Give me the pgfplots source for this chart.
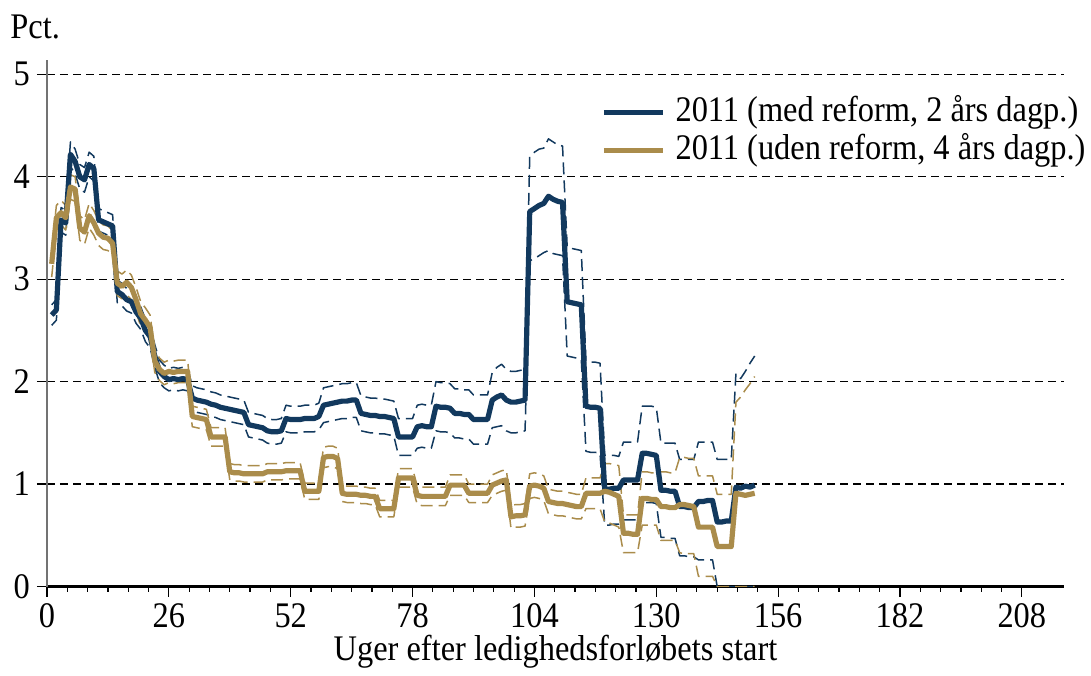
\documentclass[border=0pt]{standalone}
\usepackage{fontspec}
\setmainfont{Liberation Serif}[FakeStretch=0.9]
\usepackage{pgfplots}
\usepackage{pgfplotstable}
\pgfplotsset{compat=1.18}

\definecolor{reformblue}{HTML}{12395E}
\definecolor{nogold}{HTML}{AA8C4B}

% Weekly hazard rates (pct.) with confidence bands
% w = week, b = with reform, g = without reform, l/h = lower/upper band
\pgfplotstableread{
w b bl bh g gl gh
1 2.65 2.55 2.75 3.15 3.02 3.28
2 2.70 2.60 2.80 3.60 3.48 3.72
3 3.58 3.46 3.70 3.65 3.53 3.77
4 3.55 3.43 3.67 3.60 3.48 3.72
5 4.22 4.10 4.34 3.90 3.78 4.02
6 4.15 4.03 4.27 3.88 3.76 4.00
7 4.00 3.88 4.12 3.50 3.38 3.62
8 3.97 3.85 4.09 3.46 3.34 3.58
9 4.12 4.00 4.24 3.62 3.50 3.74
10 4.08 3.96 4.20 3.55 3.43 3.67
11 3.58 3.47 3.69 3.45 3.33 3.57
12 3.56 3.45 3.67 3.41 3.29 3.53
13 3.54 3.43 3.65 3.40 3.28 3.52
14 3.52 3.41 3.63 3.35 3.23 3.47
15 2.88 2.77 2.99 2.96 2.84 3.08
16 2.85 2.74 2.96 2.93 2.81 3.05
17 2.80 2.69 2.91 2.97 2.85 3.09
18 2.78 2.67 2.89 2.92 2.80 3.04
19 2.68 2.57 2.79 2.80 2.68 2.92
20 2.62 2.51 2.73 2.66 2.54 2.78
21 2.50 2.39 2.61 2.60 2.48 2.72
22 2.44 2.33 2.55 2.53 2.41 2.65
23 2.25 2.14 2.36 2.20 2.09 2.31
24 2.10 1.99 2.21 2.12 2.01 2.23
25 2.05 1.94 2.16 2.08 1.97 2.19
26 2.02 1.91 2.13 2.10 1.99 2.21
27 2.03 1.92 2.14 2.09 1.98 2.20
28 2.02 1.91 2.13 2.10 1.99 2.21
29 2.03 1.92 2.14 2.10 1.99 2.21
30 2.02 1.91 2.13 2.10 1.99 2.21
31 1.84 1.72 1.96 1.66 1.56 1.76
32 1.82 1.70 1.94 1.65 1.55 1.75
33 1.81 1.69 1.93 1.64 1.54 1.74
34 1.80 1.68 1.92 1.63 1.53 1.73
35 1.78 1.66 1.90 1.46 1.37 1.55
36 1.77 1.65 1.89 1.46 1.37 1.55
37 1.75 1.63 1.87 1.46 1.37 1.55
38 1.74 1.62 1.86 1.46 1.37 1.55
39 1.73 1.61 1.85 1.12 1.04 1.20
40 1.72 1.60 1.84 1.11 1.03 1.19
41 1.71 1.59 1.83 1.11 1.03 1.19
42 1.70 1.58 1.82 1.10 1.02 1.18
43 1.58 1.46 1.70 1.10 1.02 1.18
44 1.57 1.45 1.69 1.10 1.02 1.18
45 1.56 1.44 1.68 1.10 1.02 1.18
46 1.55 1.43 1.67 1.10 1.02 1.18
47 1.52 1.40 1.64 1.12 1.04 1.20
48 1.51 1.39 1.63 1.12 1.04 1.20
49 1.51 1.39 1.63 1.12 1.04 1.20
50 1.52 1.40 1.64 1.12 1.04 1.20
51 1.64 1.51 1.77 1.13 1.05 1.21
52 1.63 1.50 1.76 1.13 1.05 1.21
53 1.63 1.50 1.76 1.13 1.05 1.21
54 1.63 1.50 1.76 1.13 1.05 1.21
55 1.64 1.51 1.77 0.93 0.85 1.01
56 1.64 1.51 1.77 0.93 0.85 1.01
57 1.64 1.51 1.77 0.93 0.85 1.01
58 1.66 1.53 1.79 0.93 0.85 1.01
59 1.77 1.60 1.94 1.26 1.16 1.36
60 1.78 1.61 1.95 1.27 1.17 1.37
61 1.79 1.62 1.96 1.27 1.17 1.37
62 1.80 1.63 1.97 1.25 1.15 1.35
63 1.81 1.64 1.98 0.91 0.83 0.99
64 1.81 1.64 1.98 0.90 0.82 0.98
65 1.82 1.65 1.99 0.90 0.82 0.98
66 1.82 1.65 1.99 0.90 0.82 0.98
67 1.69 1.52 1.86 0.89 0.81 0.97
68 1.68 1.51 1.85 0.89 0.81 0.97
69 1.67 1.50 1.84 0.88 0.80 0.96
70 1.67 1.50 1.84 0.88 0.80 0.96
71 1.66 1.49 1.83 0.76 0.68 0.84
72 1.66 1.49 1.83 0.76 0.68 0.84
73 1.65 1.48 1.82 0.76 0.68 0.84
74 1.64 1.47 1.81 0.76 0.68 0.84
75 1.46 1.28 1.64 1.06 0.97 1.15
76 1.46 1.28 1.64 1.06 0.97 1.15
77 1.46 1.28 1.64 1.06 0.97 1.15
78 1.46 1.28 1.64 1.06 0.97 1.15
79 1.56 1.35 1.77 0.89 0.80 0.98
80 1.57 1.36 1.78 0.88 0.79 0.97
81 1.56 1.35 1.77 0.88 0.79 0.97
82 1.56 1.35 1.77 0.88 0.79 0.97
83 1.76 1.52 2.00 0.88 0.79 0.97
84 1.75 1.51 1.99 0.88 0.79 0.97
85 1.75 1.51 1.99 0.88 0.79 0.97
86 1.74 1.50 1.98 0.99 0.89 1.09
87 1.69 1.45 1.93 0.99 0.89 1.09
88 1.69 1.45 1.93 0.99 0.89 1.09
89 1.68 1.44 1.92 0.99 0.89 1.09
90 1.68 1.44 1.92 0.91 0.82 1.00
91 1.63 1.39 1.87 0.91 0.82 1.00
92 1.63 1.39 1.87 0.91 0.82 1.00
93 1.63 1.39 1.87 0.91 0.82 1.00
94 1.63 1.39 1.87 0.91 0.82 1.00
95 1.82 1.55 2.09 0.99 0.89 1.09
96 1.85 1.56 2.14 1.01 0.91 1.11
97 1.87 1.57 2.17 1.03 0.93 1.13
98 1.82 1.52 2.12 1.04 0.94 1.14
99 1.80 1.50 2.10 0.68 0.57 0.79
100 1.80 1.50 2.10 0.69 0.58 0.80
101 1.81 1.51 2.11 0.69 0.58 0.80
102 1.82 1.52 2.12 0.70 0.59 0.81
103 3.66 3.18 4.20 0.98 0.86 1.10
104 3.69 3.20 4.24 0.99 0.87 1.11
105 3.72 3.23 4.27 0.98 0.86 1.10
106 3.74 3.26 4.28 0.96 0.84 1.08
107 3.81 3.28 4.37 0.83 0.71 0.95
108 3.78 3.25 4.34 0.82 0.70 0.94
109 3.76 3.24 4.31 0.81 0.69 0.93
110 3.75 3.23 4.30 0.81 0.69 0.93
111 2.78 2.25 3.31 0.80 0.68 0.92
112 2.77 2.24 3.30 0.79 0.67 0.91
113 2.76 2.23 3.29 0.78 0.66 0.90
114 2.75 2.22 3.28 0.78 0.66 0.90
115 1.76 1.32 2.20 0.91 0.76 1.06
116 1.75 1.31 2.19 0.91 0.76 1.06
117 1.75 1.31 2.19 0.91 0.76 1.06
118 1.74 1.30 2.18 0.91 0.76 1.06
119 0.95 0.60 1.28 0.93 0.63 1.20
120 0.95 0.60 1.28 0.92 0.62 1.20
121 0.96 0.61 1.28 0.90 0.60 1.19
122 0.96 0.61 1.27 0.88 0.58 1.18
123 1.04 0.65 1.41 0.52 0.33 0.70
124 1.04 0.65 1.41 0.52 0.33 0.70
125 1.04 0.65 1.41 0.51 0.33 0.70
126 1.04 0.65 1.41 0.51 0.33 0.70
127 1.30 0.82 1.76 0.86 0.60 1.12
128 1.30 0.82 1.76 0.86 0.60 1.12
129 1.29 0.82 1.76 0.85 0.60 1.11
130 1.28 0.81 1.75 0.85 0.60 1.11
131 0.94 0.48 1.40 0.78 0.45 1.12
132 0.94 0.48 1.40 0.78 0.45 1.12
133 0.93 0.47 1.40 0.77 0.45 1.11
134 0.93 0.47 1.40 0.77 0.45 1.11
135 0.78 0.30 1.24 0.80 0.33 1.26
136 0.78 0.30 1.24 0.80 0.32 1.26
137 0.77 0.29 1.24 0.79 0.32 1.25
138 0.77 0.29 1.24 0.78 0.32 1.25
139 0.83 0.26 1.41 0.58 0.10 1.08
140 0.83 0.26 1.41 0.58 0.10 1.08
141 0.84 0.26 1.41 0.58 0.10 1.08
142 0.84 0.26 1.41 0.58 0.10 1.08
143 0.63 0.00 1.24 0.39 0.00 0.90
144 0.63 0.00 1.24 0.39 0.00 0.90
145 0.64 0.00 1.24 0.39 0.00 0.90
146 0.64 0.00 1.24 0.39 0.00 0.90
147 0.97 0.00 2.08 0.91 0.00 1.80
148 0.96 0.00 2.03 0.90 0.00 1.85
149 0.98 0.00 2.10 0.89 0.00 1.92
150 0.97 0.00 2.18 0.90 0.00 1.98
151 0.99 0.00 2.25 0.91 0.00 2.05
}\hazard

\begin{document}
\begin{tikzpicture}
% page frame
\path (0,0) rectangle (545.5pt,335pt);
\node[anchor=base west, inner sep=0pt, font=\fontsize{18}{21}\selectfont] at (5pt,316pt) {Pct.};
\begin{axis}[
  at={(23.5pt,41.75pt)}, anchor=south west,
  scale only axis, width=508.5pt, height=263.25pt,
  xmin=0, xmax=217, ymin=0, ymax=5.14,
  axis x line*=bottom, axis y line*=left,
  x axis line style={black, line width=1.1pt},
  y axis line style={black!55, line width=0.7pt},
  xtick={0,26,...,208}, minor x tick num=5,
  ytick={0,1,2,3,4,5},
  tick align=outside,
  major tick length=5pt, minor tick length=2.5pt,
  xtick style={black, line width=0.6pt},
  ytick style={black, line width=0.6pt},
  ymajorgrids,
  major grid style={black, line width=0.6pt, dash pattern=on 4pt off 2.5pt},
  /pgf/number format/assume math mode=true,
  tick label style={font=\fontsize{18}{21}\selectfont},
  label style={font=\fontsize{18}{21}\selectfont},
  xlabel={Uger efter ledighedsforløbets start},
  xlabel style={yshift=3pt},
  legend style={draw=none, fill=none, at={(0.5447,0.935)}, anchor=north west,
    inner sep=0pt, row sep=1pt, column sep=5pt,
    nodes={inner sep=0pt, text height=13.5pt, text depth=4.5pt},
    font=\fontsize{18}{21}\selectfont},
  legend cell align=left,
  legend image code/.code={\draw[#1] (0pt,0pt) -- (29.5pt,0pt);},
  every axis plot/.append style={line join=round},
]
% confidence bands
\addplot[reformblue, line width=0.75pt, dash pattern=on 6pt off 3pt, forget plot] table[x=w,y=bl] {\hazard};
\addplot[reformblue, line width=0.75pt, dash pattern=on 6pt off 3pt, forget plot] table[x=w,y=bh] {\hazard};
\addplot[nogold, line width=0.75pt, dash pattern=on 6pt off 3pt, forget plot] table[x=w,y=gl] {\hazard};
\addplot[nogold, line width=0.75pt, dash pattern=on 6pt off 3pt, forget plot] table[x=w,y=gh] {\hazard};
% point estimates
\addplot[reformblue, line width=2.6pt] table[x=w,y=b] {\hazard};
\addlegendentry{2011 (med reform, 2 års dagp.)}
\addplot[nogold, line width=2.6pt] table[x=w,y=g] {\hazard};
\addlegendentry{2011 (uden reform, 4 års dagp.)}
\end{axis}
\end{tikzpicture}
\end{document}
